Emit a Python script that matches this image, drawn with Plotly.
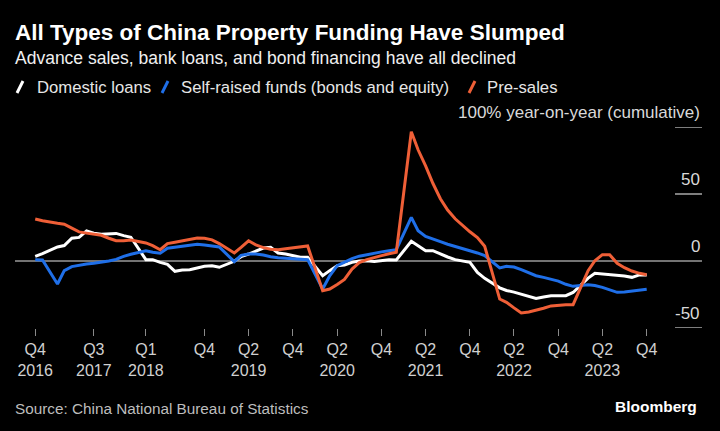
import pandas as pd
import plotly.graph_objects as go

# ---------------- data ----------------
# monthly cumulative YoY (Jan-Feb combined, so January is absent)
months = [d for d in pd.date_range("2016-11-01", "2023-10-01", freq="MS") if d.month != 1]

domestic_loans = [
    3.5, 5.5, 10.5, 11.5, 17, 17.6, 22.5, 20.8, 20, 20.4, 20.6, 18.9, 17.7,
    1, 1, -1, -2.5, -7.7, -6.8, -6.5, -5.2, -4, -3.5, -4.7,
    -0.2, 3.2, 5.2, 7.5, 9.7, 10.2, 6, 5.2, 4, 2.8, 2.8,
    -11, -7.2, -3.5, -3, -1, 0, 0.2, -0.4, 0.3, 1, 0.7,
    14.7, 11.4, 7.7, 7.7, 5.2, 3, 1, -0.2, -1, -8.5, -12.9,
    -20, -22, -23.2, -24.8, -26.5, -28, -26.8, -26, -25.9, -25.9, -23.5,
    -12.8, -9.2, -9.6, -10, -10.5, -11.2, -12.2, -10.4, -10.4,
]
self_raised = [
    1, 0.8, -17.2, -7.2, -4.2, -3, -2.2, -1.7, -1, 0, 1.2, 3.5, 5,
    7.7, 6.5, 5.8, 9.5, 10.3, 11.2, 11.9, 12.5, 12, 11.3, 10.5,
    -0.5, 4.2, 5.2, 5.2, 4.5, 3.2, 2.5, 2.2, 2, 1.6, 1,
    -20.9, -11, -3.5, -1, 1.8, 3.6, 4.8, 6, 6.8, 7.6, 8.4,
    32.6, 22.6, 18.4, 16.2, 14.4, 12.5, 11, 9, 7.5, 6, 4,
    -5.2, -4, -4.5, -6.5, -8.5, -11, -12.2, -13.5, -15, -17.4, -18.9,
    -17.8, -18.3, -19.7, -21.8, -23.4, -23.1, -22.5, -21.6, -21.1,
]
pre_sales = [
    31.3, 30, 28.1, 27.5, 24.5, 21.7, 20.8, 20.1, 19.2, 17, 15.1, 15.1, 15.6,
    13.5, 11.5, 8.4, 13, 14, 15, 15.9, 17.1, 16.9, 15.8, 13,
    6, 10.2, 15.1, 12, 10, 8.8, 8.4, 9.1, 9.7, 10.4, 11.2,
    -22.2, -20.9, -17.5, -13.7, -6, -1.2, 1, 2.8, 4, 5.4, 6.5,
    96.5, 83, 71, 58, 46.5, 38, 31.5, 26.5, 21.8, 17.5, 11,
    -28.4, -30.8, -35, -38.8, -38, -36.8, -35.3, -33.5, -33, -32.7, -32.6,
    -7.2, 0.2, 4.7, 4.7, -1.7, -5, -7.5, -9.2, -10.2,
]

series_names = ["Domestic loans", "Self-raised funds (bonds and equity)", "Pre-sales"]
series_values = [domestic_loans, self_raised, pre_sales]
series_colors = ["#ffffff", "#1f6fe8", "#ef5f37"]

tick_dates = ["2016-11-01", "2017-07-01", "2018-02-01", "2018-10-01", "2019-04-01",
              "2019-10-01", "2020-04-01", "2020-10-01", "2021-04-01", "2021-10-01",
              "2022-04-01", "2022-10-01", "2023-04-01", "2023-10-01"]
tick_labels = ["Q4<br>2016", "Q3<br>2017", "Q1<br>2018", "Q4", "Q2<br>2019", "Q4",
               "Q2<br>2020", "Q4", "Q2<br>2021", "Q4", "Q2<br>2022", "Q4",
               "Q2<br>2023", "Q4"]
y_ticks = [-50, 0, 50, 100]
y_tick_labels = ["-50", "0", "50", "100% year-on-year (cumulative)"]

title = "All Types of China Property Funding Have Slumped"
subtitle = "Advance sales, bank loans, and bond financing have all declined"
source = "Source: China National Bureau of Statistics"

# ---------------- layout helpers ----------------
W, H = 720, 431
PL, PT, PW, PH = 15, 127, 687, 201
FONT = "Liberation Sans, Arial, sans-serif"


def px(x):
    return (x - PL) / PW


def py(y):
    return (PT + PH - y) / PH


fig = go.Figure()
for name, vals, col in zip(series_names, series_values, series_colors):
    fig.add_trace(go.Scatter(x=months, y=vals, name=name, mode="lines",
                             line=dict(color=col, width=3), hoverinfo="skip"))

shapes = []
annotations = []

# zero line (full width) and short gridlines behind right-hand labels
for v in y_ticks:
    if v == 0:
        shapes.append(dict(type="line", xref="paper", yref="y", x0=0, x1=1, y0=0, y1=0,
                           line=dict(color="#9a9a9a", width=1.5), layer="below"))
    else:
        shapes.append(dict(type="line", xref="paper", yref="y", x0=px(675), x1=1, y0=v, y1=v,
                           line=dict(color="#a8a8a8", width=1.5), layer="below"))
for v, lab in zip(y_ticks, y_tick_labels):
    annotations.append(dict(text=lab, xref="paper", yref="y", x=1, y=v, xanchor="right",
                            yanchor="bottom", yshift=3, showarrow=False,
                            font=dict(family=FONT, size=17, color="#d9d9d9")))

# title / subtitle
annotations.append(dict(text="<b>" + title + "</b>", xref="paper", yref="paper", x=px(13), y=py(33),
                        xanchor="left", yanchor="middle", showarrow=False,
                        font=dict(family=FONT, size=22.5, color="#ffffff")))
annotations.append(dict(text=subtitle, xref="paper", yref="paper", x=px(13), y=py(58),
                        xanchor="left", yanchor="middle", showarrow=False,
                        font=dict(family=FONT, size=17.5, color="#f0f0f0")))

# legend (slash markers + labels)
legend_mark_x = [17, 162, 469]
legend_text_x = [35, 179, 485]
for name, col, mx, tx in zip(series_names, series_colors, legend_mark_x, legend_text_x):
    shapes.append(dict(type="line", xref="paper", yref="paper", x0=px(mx), x1=px(mx + 6),
                       y0=py(93), y1=py(81), line=dict(color=col, width=3)))
    annotations.append(dict(text=name, xref="paper", yref="paper", x=px(tx), y=py(87),
                            xanchor="left", yanchor="middle", showarrow=False,
                            font=dict(family=FONT, size=16.7, color="#e6e6e6")))

# footer
annotations.append(dict(text=source, xref="paper", yref="paper", x=px(13), y=py(408),
                        xanchor="left", yanchor="middle", showarrow=False,
                        font=dict(family=FONT, size=15.3, color="#bdbdbd")))
annotations.append(dict(text="<b>Bloomberg</b>", xref="paper", yref="paper", x=px(699), y=py(406),
                        xanchor="right", yanchor="middle", showarrow=False,
                        font=dict(family=FONT, size=15.5, color="#ffffff")))

# x range so that ticks land where the reference puts them
px_per_day = (646.7 - 204.5) / (pd.Timestamp("2023-10-01") - pd.Timestamp("2018-10-01")).days
ref = pd.Timestamp("2018-10-01")
x_start = ref - pd.Timedelta(days=(204.5 - PL) / px_per_day)
x_end = ref + pd.Timedelta(days=(PL + PW - 204.5) / px_per_day)

fig.update_layout(
    width=W, height=H,
    margin=dict(l=PL, r=W - PL - PW, t=PT, b=H - PT - PH),
    paper_bgcolor="#000000", plot_bgcolor="#000000",
    showlegend=False,
    shapes=shapes, annotations=annotations,
    xaxis=dict(type="date", range=[x_start, x_end], tickvals=tick_dates, ticktext=tick_labels,
               ticks="outside", ticklen=7, tickwidth=1, tickcolor="#8a8a8a",
               showgrid=False, showline=False, zeroline=False,
               tickfont=dict(family=FONT, size=16, color="#d0d0d0")),
    yaxis=dict(range=[-50, 100], showgrid=False, zeroline=False, showticklabels=False,
               showline=False),
)

fig.write_html(
    "out.html",
    config={"displayModeBar": False, "staticPlot": True},
    post_script="document.body.style.margin='0';document.body.style.padding='0';"
                "document.body.style.background='#000';"
                "document.documentElement.style.background='#000';",
)
